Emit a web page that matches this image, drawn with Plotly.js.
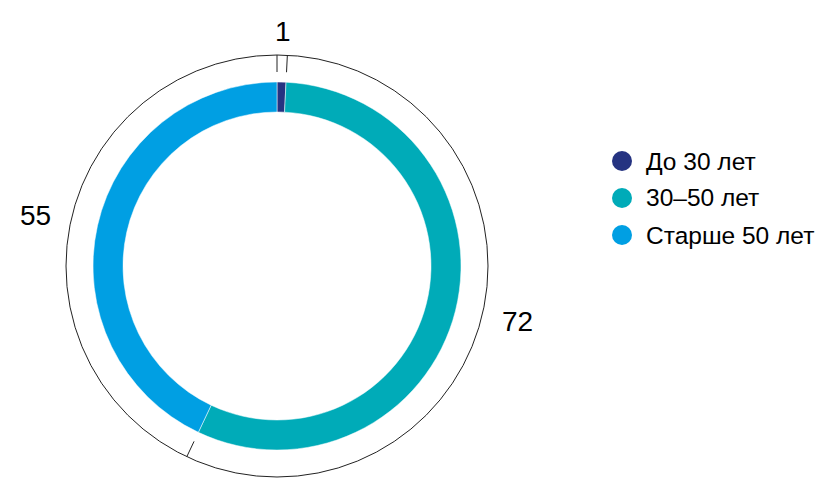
<!DOCTYPE html>
<html>
<head>
<meta charset="utf-8">
<script src="https://cdn.plot.ly/plotly-3.0.1.min.js"></script>
<style>html,body{margin:0;padding:0;background:#fff;}#chart{width:837px;height:504px;}</style>
</head>
<body>
<div id="chart"></div>
<script>
// Data
const categories = ["До 30 лет", "30–50 лет", "Старше 50 лет"];
const values = [1, 72, 55];
const colors = ["#253381", "#00abb8", "#009fe3"];

// Geometry (pixels)
const W = 837, H = 504;
const cx = 277, cy = 266;
const rOuter = 184, rInner = 154;
const rRing = 211, rTick = 194;
const rLabelH = 230, rLabelV = 235;

function px2x(p){ return p / W; }
function py2y(p){ return 1 - p / H; }

const total = values.reduce((a,b)=>a+b,0);

const shapes = [];
const annotations = [];

// thin outer ring
shapes.push({type:'circle', xref:'paper', yref:'paper',
  x0:px2x(cx-rRing), x1:px2x(cx+rRing), y0:py2y(cy+rRing), y1:py2y(cy-rRing),
  line:{color:'#222', width:1}, fillcolor:'rgba(0,0,0,0)', layer:'below'});

// ticks at slice boundaries and labels at slice midpoints
let cum = 0;
values.forEach((v,i)=>{
  const a0 = cum/total*2*Math.PI;
  const s = Math.sin(a0), c = Math.cos(a0);
  shapes.push({type:'line', xref:'paper', yref:'paper',
    x0:px2x(cx + rTick*s), y0:py2y(cy - rTick*c),
    x1:px2x(cx + rRing*s), y1:py2y(cy - rRing*c),
    line:{color:'#222', width:1}});
  const am = (cum + v/2)/total*2*Math.PI;
  const sm = Math.sin(am), cm = Math.cos(am);
  const xa = sm > 0.3 ? 'left' : (sm < -0.3 ? 'right' : 'center');
  const r = xa === 'center' ? rLabelV : rLabelH;
  annotations.push({xref:'paper', yref:'paper', showarrow:false,
    x:px2x(cx + r*sm), y:py2y(cy - r*cm),
    xanchor:xa, yanchor:'middle', text:String(v),
    font:{family:'Liberation Sans, Arial, sans-serif', size:28, color:'#000'}});
  cum += v;
});

// manual legend
const legX = 622, legY0 = 161, legDy = 37, legR = 10;
categories.forEach((cat,i)=>{
  const y = legY0 + i*legDy;
  shapes.push({type:'circle', xref:'paper', yref:'paper',
    x0:px2x(legX-legR), x1:px2x(legX+legR), y0:py2y(y+legR), y1:py2y(y-legR),
    fillcolor:colors[i], line:{width:0}});
  annotations.push({xref:'paper', yref:'paper', showarrow:false,
    x:px2x(legX+22), y:py2y(y), xanchor:'left', yanchor:'middle', text:cat,
    font:{family:'Liberation Sans, Arial, sans-serif', size:24.5, color:'#000'}});
});

const trace = {
  type:'pie', labels:categories, values:values, sort:false, direction:'clockwise',
  rotation:0, hole:rInner/rOuter, textinfo:'none', hoverinfo:'none',
  marker:{colors:colors, line:{color:'#ffffff', width:0.5}},
  domain:{x:[px2x(cx-rOuter), px2x(cx+rOuter)], y:[py2y(cy+rOuter), py2y(cy-rOuter)]},
  showlegend:false
};

const layout = {
  width:W, height:H, margin:{l:0,r:0,t:0,b:0},
  paper_bgcolor:'#fff', plot_bgcolor:'#fff', showlegend:false,
  shapes:shapes, annotations:annotations,
  font:{family:'Liberation Sans, Arial, sans-serif'}
};

Plotly.newPlot('chart', [trace], layout, {displayModeBar:false, staticPlot:true});
</script>
</body>
</html>
